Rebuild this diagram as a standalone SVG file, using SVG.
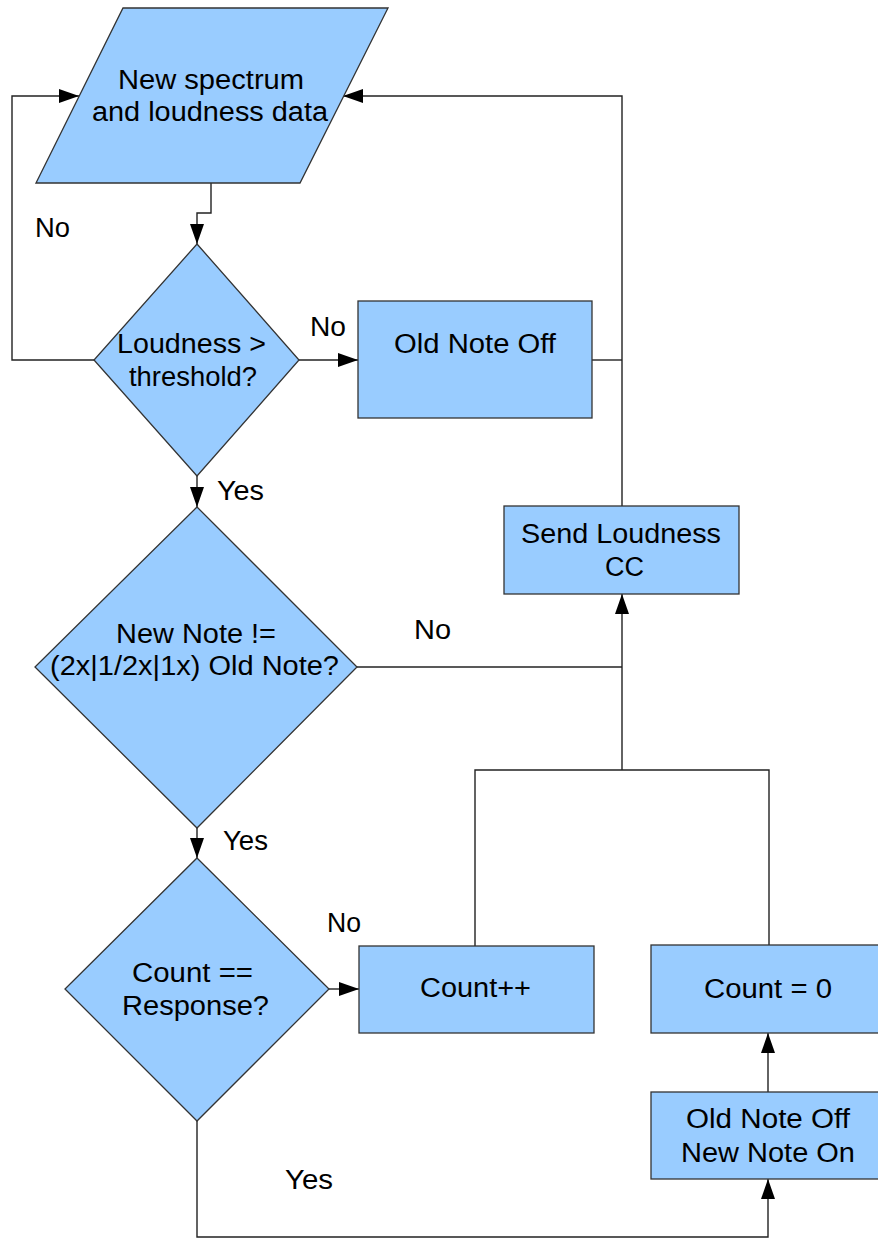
<svg xmlns="http://www.w3.org/2000/svg" width="878" height="1239" viewBox="0 0 878 1239">
<style>
.shape{fill:#99ccff;stroke:#333333;stroke-width:1.3}
.conn{fill:none;stroke:#222222;stroke-width:1.4}
text{font-family:"Liberation Sans",Arial,sans-serif;font-size:27px;fill:#000000}
</style>
<defs>
<marker id="arr" markerUnits="userSpaceOnUse" markerWidth="20" markerHeight="14" refX="20" refY="7" orient="auto">
<path d="M0,0 L20,7 L0,14 z" fill="#000000"/>
</marker>
</defs>
<rect width="878" height="1239" fill="#ffffff"/>
<g id="connectors">
<path class="conn" d="M211,183 V213 H197 V244" marker-end="url(#arr)"/>
<path class="conn" d="M94,360 H12 V96 H79" marker-end="url(#arr)"/>
<path class="conn" d="M299,360 H358" marker-end="url(#arr)"/>
<path class="conn" d="M592,360 H622"/>
<path class="conn" d="M622,506 V96 H343" marker-end="url(#arr)"/>
<path class="conn" d="M197,476 V507" marker-end="url(#arr)"/>
<path class="conn" d="M357,667 H622"/>
<path class="conn" d="M622,770 V594" marker-end="url(#arr)"/>
<path class="conn" d="M475,946 V770 H769 V945"/>
<path class="conn" d="M197,828 V858" marker-end="url(#arr)"/>
<path class="conn" d="M329,989 H359" marker-end="url(#arr)"/>
<path class="conn" d="M197,1121 V1237 H768 V1179" marker-end="url(#arr)"/>
<path class="conn" d="M768,1092 V1033" marker-end="url(#arr)"/>
</g>
<g id="labels">
<text x="35" y="237" textLength="35" lengthAdjust="spacingAndGlyphs">No</text>
<text x="310" y="336" textLength="36" lengthAdjust="spacingAndGlyphs">No</text>
<text x="217" y="500" textLength="47" lengthAdjust="spacingAndGlyphs">Yes</text>
<text x="414" y="639" textLength="37" lengthAdjust="spacingAndGlyphs">No</text>
<text x="223" y="850" textLength="45" lengthAdjust="spacingAndGlyphs">Yes</text>
<text x="327" y="932" textLength="34" lengthAdjust="spacingAndGlyphs">No</text>
<text x="285" y="1189" textLength="48" lengthAdjust="spacingAndGlyphs">Yes</text>
</g>
<g id="input">
<polygon class="shape" points="123,8 388,8 300,183 36,183"/>
<text x="118" y="89" textLength="186" lengthAdjust="spacingAndGlyphs">New spectrum</text>
<text x="92" y="121" textLength="236" lengthAdjust="spacingAndGlyphs">and loudness data</text>
</g>
<g id="loudness-decision">
<polygon class="shape" points="197,244 299,360 197,476 94,360"/>
<text x="117" y="353" textLength="149" lengthAdjust="spacingAndGlyphs">Loudness &gt;</text>
<text x="129" y="386" textLength="128" lengthAdjust="spacingAndGlyphs">threshold?</text>
</g>
<g id="old-note-off">
<rect class="shape" x="358" y="301" width="234" height="117"/>
<text x="394" y="353" textLength="162" lengthAdjust="spacingAndGlyphs">Old Note Off</text>
</g>
<g id="send-loudness">
<rect class="shape" x="504" y="506" width="235" height="88"/>
<text x="521" y="543" textLength="200" lengthAdjust="spacingAndGlyphs">Send Loudness</text>
<text x="605" y="576" textLength="39" lengthAdjust="spacingAndGlyphs">CC</text>
</g>
<g id="note-decision">
<polygon class="shape" points="197,507 357,667 197,828 35,667"/>
<text x="116" y="643" textLength="160" lengthAdjust="spacingAndGlyphs">New Note !=</text>
<text x="50" y="675" textLength="289" lengthAdjust="spacingAndGlyphs">(2x|1/2x|1x) Old Note?</text>
</g>
<g id="count-decision">
<polygon class="shape" points="197,858 329,989 197,1121 65,989"/>
<text x="132" y="982" textLength="121" lengthAdjust="spacingAndGlyphs">Count ==</text>
<text x="122" y="1015" textLength="147" lengthAdjust="spacingAndGlyphs">Response?</text>
</g>
<g id="count-inc">
<rect class="shape" x="359" y="946" width="235" height="87"/>
<text x="420" y="997" textLength="111" lengthAdjust="spacingAndGlyphs">Count++</text>
</g>
<g id="count-reset">
<rect class="shape" x="651" y="945" width="237" height="88"/>
<text x="704" y="998" textLength="128" lengthAdjust="spacingAndGlyphs">Count = 0</text>
</g>
<g id="note-switch">
<rect class="shape" x="651" y="1092" width="237" height="87"/>
<text x="686" y="1128" textLength="164" lengthAdjust="spacingAndGlyphs">Old Note Off</text>
<text x="681" y="1162" textLength="174" lengthAdjust="spacingAndGlyphs">New Note On</text>
</g>
</svg>
